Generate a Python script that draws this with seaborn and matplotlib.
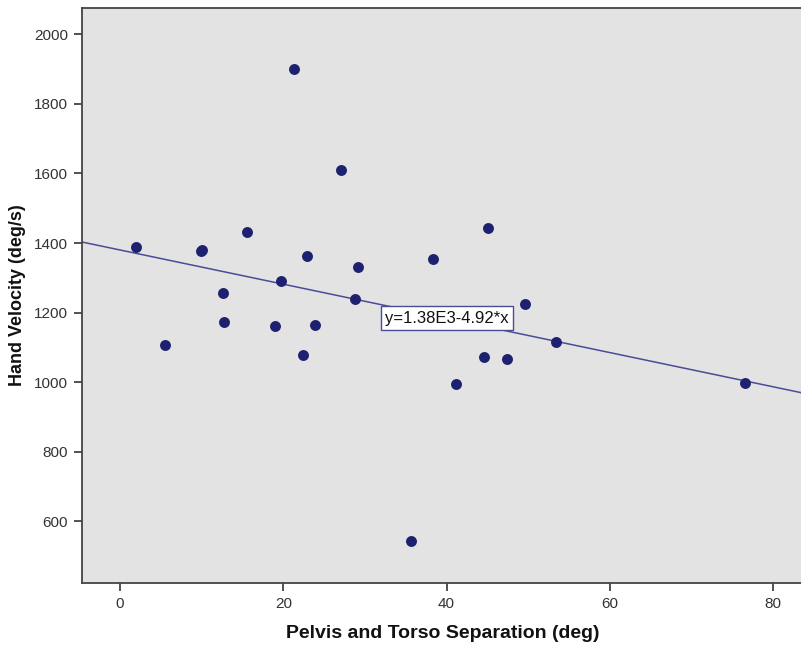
import matplotlib
matplotlib.use("Agg")
import matplotlib.pyplot as plt
import seaborn as sns
import pandas as pd

# Data
separation = [1.96, 5.5, 9.9, 10.1, 12.6, 12.7, 15.5, 19.0, 19.7, 21.3, 22.4, 22.9,
              23.9, 27.1, 28.8, 29.2, 35.6, 38.3, 41.1, 44.6, 45.1, 47.4, 49.6,
              53.4, 76.5]
velocity = [1389, 1107, 1376, 1379, 1257, 1173, 1431, 1161, 1290, 1900, 1078, 1364,
            1163, 1610, 1239, 1331, 543, 1353, 995, 1073, 1442, 1067, 1224,
            1116, 996]
fit_intercept = 1380.0
fit_slope = -4.92
fit_label = "y=1.38E3-4.92*x"
x_ticks = [0, 20, 40, 60, 80]
y_ticks = [600, 800, 1000, 1200, 1400, 1600, 1800, 2000]

df = pd.DataFrame({"sep": separation, "vel": velocity})

sns.set_style("white")
plt.rcParams['font.family'] = ['Liberation Sans', 'DejaVu Sans']

fig = plt.figure(figsize=(8.01, 6.46), dpi=100)
ax = fig.add_axes([0.1024, 0.0975, 0.8976 + 0.002, 0.8901])
ax.set_facecolor("#E3E3E3")

navy = "#1E2170"
sns.scatterplot(data=df, x="sep", y="vel", ax=ax, color=navy, s=62,
                edgecolor=navy, linewidth=0, zorder=3)
ax.axline((0, fit_intercept), slope=fit_slope, color="#4A4C96", linewidth=1.1, zorder=2)

ax.set_xlim(-4.65, 83.6)
ax.set_ylim(422, 2076)
ax.set_xticks(x_ticks)
ax.set_yticks(y_ticks)
ax.tick_params(axis="both", direction="out", length=6, width=1.2, color="#333333",
               labelsize=11, labelcolor="#333333", pad=4)
ax.tick_params(axis="both", which="both", bottom=True, left=True)

for name, sp in ax.spines.items():
    sp.set_color("#444444")
    sp.set_linewidth(1.3)
ax.spines["right"].set_visible(False)

ax.set_xlabel("Pelvis and Torso Separation (deg)", fontsize=14, fontweight="bold",
              labelpad=10, color="#111111")
ax.set_ylabel("Hand Velocity (deg/s)", fontsize=13, fontweight="bold",
              labelpad=6, color="#111111")

ax.text(40.0, 1184, fit_label, ha="center", va="center", fontsize=12,
        color="#111111", zorder=4,
        bbox=dict(boxstyle="square,pad=0.25", facecolor="white",
                  edgecolor="#4A4C96", linewidth=1.0))

fig.savefig("out.png", dpi=100)
